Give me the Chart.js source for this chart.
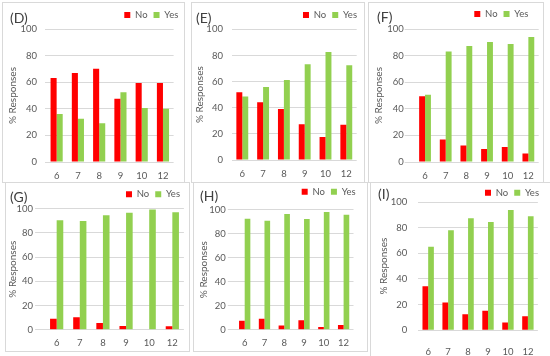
<!DOCTYPE html>
<html><head><meta charset="utf-8">
<script src="https://cdn.jsdelivr.net/npm/chart.js@4.4.1/dist/chart.umd.min.js"></script>
<style>
html,body{margin:0;padding:0;background:#fff}
body{width:550px;height:356px;position:relative;overflow:hidden;font-family:Lato,"DejaVu Sans",sans-serif}
.box{position:absolute;border:1px solid #d9d9d9;box-sizing:border-box}
.lab{position:absolute;font-family:Lato,sans-serif;font-size:14px;line-height:14px;color:#404040;white-space:nowrap}
canvas{position:absolute}
</style></head>
<body>
<script>
// ---------- data ----------
const categories = ['6','7','8','9','10','12'];
const seriesNames = ['No','Yes'];
const panelNames = ['(D)','(E)','(F)','(G)','(H)','(I)'];
const yAxisTitle = '% Responses';
const yTickValues = [0,20,40,60,80,100];

const noD  = [63.2, 66.9, 70.2, 47.6, 59.4, 59.4];
const yesD = [36.1, 32.6, 29.1, 52.4, 40.6, 40.1];
const noE  = [51.8, 44.1, 39.0, 27.3, 17.6, 27.0];
const yesE = [48.5, 55.9, 61.2, 73.2, 82.7, 72.4];
const noF  = [49.4, 17.0, 12.5, 9.8, 11.3, 6.3];
const yesF = [50.6, 83.0, 87.2, 90.2, 88.7, 94.0];
const noG  = [9.1, 10.2, 5.5, 3.0, 0, 2.8];
const yesG = [90.4, 89.8, 94.5, 96.7, 99.4, 97.0];
const noH  = [7.5, 9.2, 3.6, 7.8, 2.2, 3.9];
const yesH = [92.5, 90.8, 96.4, 92.2, 98.1, 95.8];
const noI  = [34.3, 21.6, 12.5, 15.3, 6.0, 10.9];
const yesI = [65.2, 77.9, 87.3, 84.4, 93.8, 88.8];

const seriesByPanel = [[noD,yesD],[noE,yesE],[noF,yesF],[noG,yesG],[noH,yesH],[noI,yesI]];

// ---------- styling / layout ----------
const RED = '#FF0000', GREEN = '#92D050', GRID = '#d9d9d9', TXT = '#595959';
const TICK_FS = 9.5, LEG_FS = 9.5, TITLE_FS = 10, LEG_PAD = 6;

const geo = [
 {cv:[0,-10,190,192],   area:[46,29,173.6,162],        gridExt:1,  yPad:8,  titleX:14,  labY:176, legEnd:178.3, legY:15,    box:[2,2,183,181],   lab:[10,11]},
 {cv:[186,-10,180,192], area:[231.9,29.3,356.7,160],   gridExt:0,  yPad:9,  titleX:201, labY:174, legEnd:357,   legY:15,    box:[191,2,174,181], lab:[196,10.5]},
 {cv:[366,-10,184,192], area:[414.7,29,538.7,162],     gridExt:10, yPad:1,  titleX:380, labY:176, legEnd:528.3, legY:14,    box:[368,2,176,181], lab:[377,10]},
 {cv:[0,170,192,186],   area:[45.1,208.7,183.9,329.7], gridExt:10, yPad:2,  titleX:14,  labY:343, legEnd:180,   legY:194.3, box:[5,182,185,170], lab:[10,189.5]},
 {cv:[190,170,180,186], area:[234.8,209.7,353.5,329.7],gridExt:7,  yPad:2,  titleX:205, labY:343, legEnd:355.7, legY:191.7, box:[193,182,175,170], lab:[200,189]},
 {cv:[368,170,182,186], area:[418.2,202,539.4,330.3],  gridExt:0,  yPad:11, titleX:385, labY:352, legEnd:539,   legY:192.7, box:[370,182,185,180], lab:[378,187]}
];

function makePanel(i){
  const g = geo[i];
  const [bl,bt,bw,bh] = g.box;
  const b = document.createElement('div');
  b.className = 'box';
  Object.assign(b.style,{left:bl+'px',top:bt+'px',width:bw+'px',height:bh+'px'});
  document.body.appendChild(b);

  const [cl,ct,cw,ch] = g.cv;
  const [aL,aT,aR,aB] = g.area;
  const canvas = document.createElement('canvas');
  canvas.width = cw; canvas.height = ch;
  Object.assign(canvas.style,{left:cl+'px',top:ct+'px',width:cw+'px',height:ch+'px'});
  document.body.appendChild(canvas);

  const l = document.createElement('div');
  l.className = 'lab';
  l.textContent = panelNames[i];
  Object.assign(l.style,{left:g.lab[0]+'px',top:g.lab[1]+'px'});
  document.body.appendChild(l);

  const itemH = LEG_FS;
  const legendShift = {
    id:'legendShift',
    afterLayout(chart){
      const lg = chart.legend; if(!lg) return;
      const dy = (g.legY - ct) - (lg.top + LEG_PAD + itemH/2);
      lg.top += dy; lg.bottom += dy;
      const dx = (g.legEnd - cl + LEG_PAD) - lg.right;
      lg.left += dx; lg.right += dx;
    }
  };

  const padding = {left:0, top:10, right: cw - (aR - cl), bottom:0};
  const chart = new Chart(canvas, {
    type:'bar',
    data:{
      labels: categories,
      datasets:[
        {label:seriesNames[0], data:seriesByPanel[i][0], backgroundColor:RED, borderWidth:0},
        {label:seriesNames[1], data:seriesByPanel[i][1], backgroundColor:GREEN, borderWidth:0}
      ]
    },
    options:{
      responsive:false, animation:false, devicePixelRatio:1,
      categoryPercentage:0.571, barPercentage:1,
      layout:{padding: padding},
      plugins:{
        legend:{position:'top', align:'end',
          labels:{boxWidth:6, boxHeight:6, padding:LEG_PAD, color:TXT, font:{size:LEG_FS}}},
        tooltip:{enabled:false}
      },
      scales:{
        x:{
          grid:{display:false, drawTicks:false}, border:{display:false},
          ticks:{color:TXT, font:{size:TICK_FS}, padding: g.labY - aB - TICK_FS*0.6, maxRotation:0, autoSkip:false},
          afterFit(s){ s.height = (ct + ch) - aB; }
        },
        y:{
          min:0, max:100,
          grid:{color:GRID, lineWidth:1, drawTicks: g.gridExt > 0, tickLength: g.gridExt, tickColor:GRID},
          border:{display:false},
          ticks:{color:TXT, font:{size:TICK_FS}, padding:g.yPad},
          afterBuildTicks(s){ s.ticks = yTickValues.map(v => ({value:v})); },
          title:{display:true, text:yAxisTitle, color:TXT, font:{size:TITLE_FS},
                 padding:{top: Math.max(0, g.titleX - cl - TITLE_FS*0.6 - 1), bottom:0}},
          afterFit(s){ s.width = aL - cl; }
        }
      }
    },
    plugins:[legendShift]
  });

  // align chart area to target rectangle
  for (let k = 0; k < 2; k++) {
    const ca = chart.chartArea;
    const lp = chart.config.options.layout.padding;
    lp.top += (aT - ct) - ca.top;
    lp.bottom += ca.bottom - (aB - ct);
    lp.right += ca.right - (aR - cl);
    chart.update();
  }
}

function drawAll(){
  Chart.defaults.font.family = 'Lato, "DejaVu Sans", sans-serif';
  for (let i = 0; i < geo.length; i++) makePanel(i);
}
if (document.fonts && document.fonts.load) {
  Promise.all([document.fonts.load('10px Lato'), document.fonts.load('14px Lato')]).then(drawAll, drawAll);
} else drawAll();
</script>
</body></html>
